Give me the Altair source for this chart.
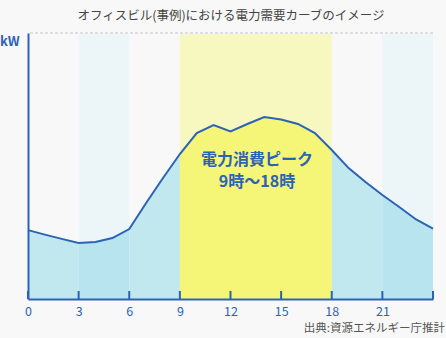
import altair as alt
import pandas as pd

hours = list(range(25))
demand = [25.9, 24.2, 22.6, 21.1, 21.4, 22.9, 26.3, 36.1, 45.5, 54.5, 62.4, 65.4, 63.0,
          65.8, 68.4, 67.5, 65.8, 62.4, 56.0, 49.2, 44.0, 39.1, 34.6, 29.9, 26.5]

seg_starts = [0, 3, 6, 9, 18, 21]
seg_ends = [3, 6, 9, 18, 21, 24]
seg_names = ["a", "b", "c", "d", "e", "f"]
seg_colors = ["#c1e8ef", "#b7e4ee", "#c1e8ef", "#f5f577", "#c1e8ef", "#b7e4ee"]

band_starts = [3, 9, 21]
band_ends = [6, 18, 24]
band_names = ["blue1", "yellow", "blue2"]
band_colors = ["#ecf5f8", "#f7f7c0", "#ecf5f8"]

tick_hours = [0, 3, 6, 9, 12, 15, 18, 21, 24]
label_hours = [0, 3, 6, 9, 12, 15, 18, 21]
y_top = [100]

title = "オフィスビル(事例)における電力需要カーブのイメージ"
unit = "kW"
peak_text = ["電力消費ピーク", "9時〜18時"]
source = "出典:資源エネルギー庁推計"

W, H = 405, 266
BLUE = "#2c63b5"
FONT = "Noto Sans CJK JP"

df = pd.DataFrame({"hour": hours, "demand": demand})
rows = []
for s, e, n in zip(seg_starts, seg_ends, seg_names):
    for h, v in zip(hours, demand):
        if s <= h <= e:
            rows.append({"hour": h, "demand": v, "seg": n})
seg_df = pd.DataFrame(rows)
band_df = pd.DataFrame({"start": band_starts, "end": band_ends, "band": band_names})
tick_df = pd.DataFrame({"hour": tick_hours})

xs = alt.Scale(domain=[0, 24], nice=False, zero=False)
ys = alt.Scale(domain=[0, 100], nice=False)

x_axis = alt.Axis(
    values=label_hours, ticks=False, grid=False, domainColor=BLUE, domainWidth=2,
    labelColor=BLUE, labelFontSize=12.5, labelFont=FONT, labelPadding=6, title=None,
    labelFlush=False, zindex=1)
y_axis = alt.Axis(
    values=y_top, ticks=False, labels=False, grid=False, title=None, domainColor=BLUE,
    domainWidth=2, zindex=1)

bands = alt.Chart(band_df).mark_rect().encode(
    x=alt.X("start:Q", scale=xs, axis=x_axis),
    x2="end:Q",
    y=alt.datum(0, scale=ys, axis=y_axis),
    y2=alt.datum(99.5),
    color=alt.Color("band:N", scale=alt.Scale(domain=band_names, range=band_colors), legend=None),
)

top_rule = alt.Chart(pd.DataFrame({"v": y_top})).mark_rule(
    color="#c4c4c4", strokeWidth=1, strokeDash=[3, 2]
).encode(y=alt.Y("v:Q", scale=ys))

area = alt.Chart(seg_df).mark_area(opacity=1).encode(
    x=alt.X("hour:Q", scale=xs),
    y=alt.Y("demand:Q", scale=ys, stack=None),
    detail="seg:N",
    fill=alt.Fill("seg:N", scale=alt.Scale(domain=seg_names, range=seg_colors), legend=None),
)

line = alt.Chart(df).mark_line(color=BLUE, strokeWidth=2).encode(
    x=alt.X("hour:Q", scale=xs),
    y=alt.Y("demand:Q", scale=ys),
)

ticks = alt.Chart(tick_df).mark_rule(color=BLUE, strokeWidth=2).encode(
    x=alt.X("hour:Q", scale=xs),
    y=alt.value(H - 8),
    y2=alt.value(H),
)

peak = alt.Chart(pd.DataFrame({"t": [peak_text]})).mark_text(
    font=FONT, fontSize=16, fontWeight="bold", color=BLUE, lineHeight=22, align="center", baseline="middle"
).encode(
    x=alt.value(229), y=alt.value(127), text="t"
)

title_t = alt.Chart(pd.DataFrame({"t": [title]})).mark_text(
    font=FONT, fontSize=12.5, color="#444444", align="center", baseline="middle"
).encode(x=alt.value(203), y=alt.value(-17), text="t")

unit_t = alt.Chart(pd.DataFrame({"t": [unit]})).mark_text(
    font=FONT, fontSize=13, fontWeight="bold", color=BLUE, align="left", baseline="middle"
).encode(x=alt.value(-28), y=alt.value(9), text="t")

src_t = alt.Chart(pd.DataFrame({"t": [source]})).mark_text(
    font=FONT, fontSize=11.5, color="#555555", align="right", baseline="middle"
).encode(x=alt.value(417), y=alt.value(296), text="t")

chart = alt.layer(bands, top_rule, area, line, ticks, peak, title_t, unit_t, src_t).resolve_scale(
    color="independent", fill="independent"
).properties(
    width=W, height=H,
    autosize=alt.AutoSizeParams(type="none"),
    padding={"left": 28, "top": 33, "right": 13, "bottom": 39},
    background="#f8f8f8",
).configure_view(stroke=None)

chart.save("out.html", embed_options={"renderer": "svg", "actions": False})
